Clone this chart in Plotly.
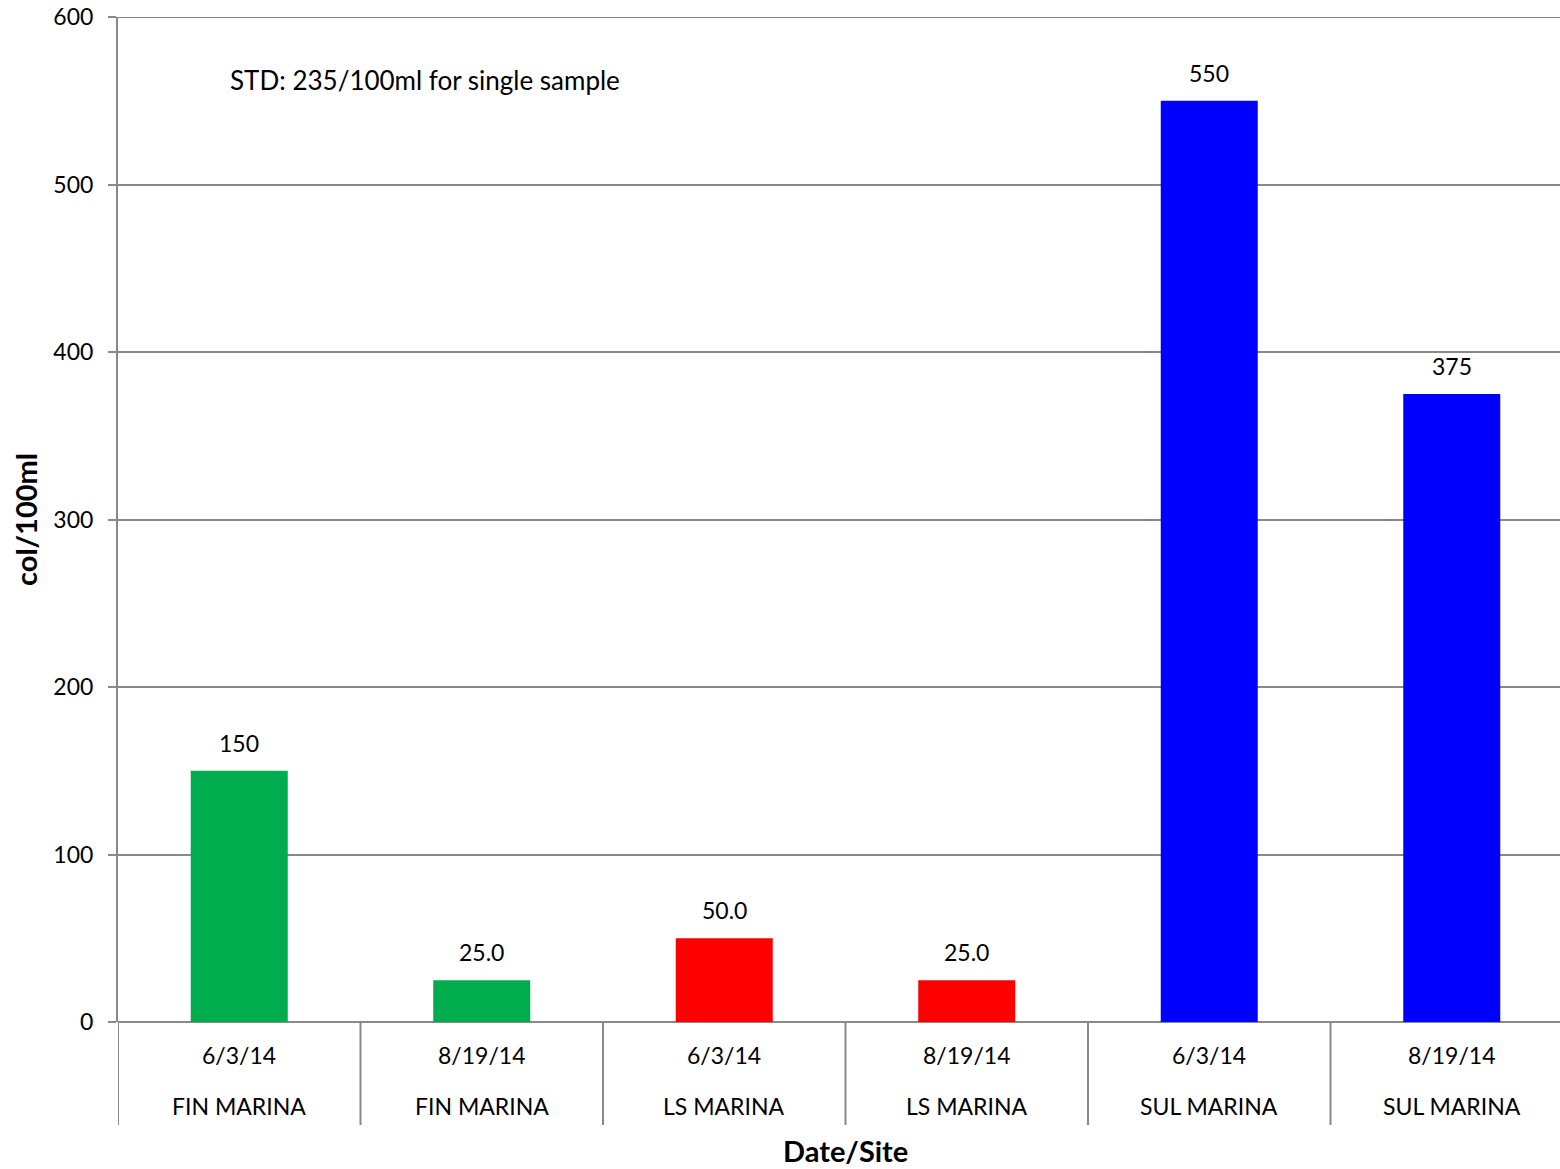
import plotly.graph_objects as go

dates = ["6/3/14", "8/19/14", "6/3/14", "8/19/14", "6/3/14", "8/19/14"]
sites = ["FIN MARINA", "FIN MARINA", "LS MARINA", "LS MARINA", "SUL MARINA", "SUL MARINA"]
values = [150, 25, 50, 25, 550, 375]
value_labels = ["150", "25.0", "50.0", "25.0", "550", "375"]
colors = ["#00AD4E", "#00AD4E", "#FF0000", "#FF0000", "#0000FF", "#0000FF"]
y_ticks = [0, 100, 200, 300, 400, 500, 600]

FONT = "Lato, Open Sans, sans-serif"
GRID = "#898989"

xs = list(range(len(values)))

L, T, W, H = 118, 17, 1560, 1169
PLOT_H = 1005
B = H - T - PLOT_H
CAT_W = 242.5

fig = go.Figure()
fig.add_trace(go.Bar(
    x=xs, y=values, width=0.4, marker=dict(color=colors, line=dict(width=0)),
    hoverinfo="y",
))

annotations = []
for i, (d, s, v, lab) in enumerate(zip(dates, sites, values, value_labels)):
    annotations.append(dict(x=i, y=v, xref="x", yref="y", text=lab, showarrow=False,
                            yanchor="middle", yshift=28,
                            font=dict(family=FONT, size=23, color="#000000")))
    annotations.append(dict(x=i, y=0, xref="x", yref="y", text=d, showarrow=False,
                            yanchor="middle", yshift=-33,
                            font=dict(family=FONT, size=23, color="#000000")))
    annotations.append(dict(x=i, y=0, xref="x", yref="y", text=s, showarrow=False,
                            yanchor="middle", yshift=-84,
                            font=dict(family=FONT, size=23, color="#000000")))

plot_w = W - L
annotations.append(dict(x=(228 - L) / plot_w, y=1 - (80 - T) / PLOT_H, xref="paper", yref="paper",
                        text="STD: 235/100ml for single sample", showarrow=False,
                        xanchor="left", yanchor="middle",
                        font=dict(family=FONT, size=26, color="#000000")))
annotations.append(dict(x=(845 - L) / plot_w, y=-(1150 - T - PLOT_H) / PLOT_H, xref="paper", yref="paper",
                        text="<b>Date/Site</b>", showarrow=False,
                        xanchor="center", yanchor="middle",
                        font=dict(family=FONT, size=29, color="#000000")))
annotations.append(dict(x=(25 - L) / plot_w, y=1 - (520 - T) / PLOT_H, xref="paper", yref="paper",
                        text="<b>col/100ml</b>", showarrow=False, textangle=-90,
                        xanchor="center", yanchor="middle",
                        font=dict(family=FONT, size=29, color="#000000")))

shapes = []
for b in range(len(values)):
    shapes.append(dict(type="line", xref="x", yref="paper", x0=b - 0.5, x1=b - 0.5,
                       y0=0, y1=-0.1025, line=dict(color=GRID, width=2)))
shapes.append(dict(type="line", xref="paper", yref="y", x0=0, x1=1, y0=600, y1=600,
                   line=dict(color=GRID, width=2)))

fig.update_layout(
    width=W, height=H,
    margin=dict(l=L, r=0, t=T, b=B),
    plot_bgcolor="white", paper_bgcolor="white",
    showlegend=False,
    annotations=annotations, shapes=shapes,
    xaxis=dict(range=[-0.5, -0.5 + plot_w / CAT_W], showticklabels=False,
               showgrid=False, zeroline=False, showline=False, ticks=""),
    yaxis=dict(range=[0, 600], tickvals=y_ticks, showgrid=True, gridcolor=GRID, gridwidth=2,
               zeroline=True, zerolinecolor=GRID, zerolinewidth=2,
               showline=True, linecolor=GRID, linewidth=2,
               ticks="outside", ticklen=8, tickcolor=GRID, tickwidth=2,
               ticklabelstandoff=10,
               tickfont=dict(family=FONT, size=23, color="#000000")),
)

fig.write_html("out.html", config={"displayModeBar": False},
               post_script="document.body.style.margin='0';document.body.style.overflow='hidden';")
